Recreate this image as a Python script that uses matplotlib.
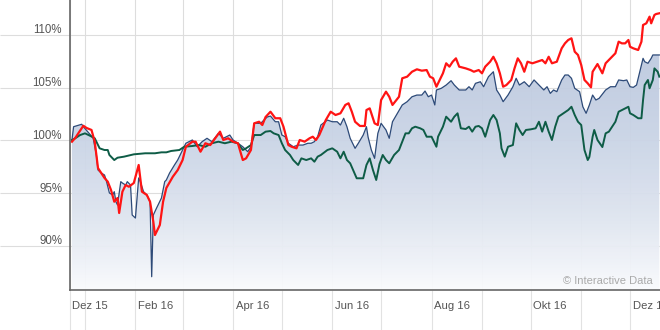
import numpy as np
import pandas as pd
import matplotlib
matplotlib.use('Agg')
import matplotlib.pyplot as plt
import matplotlib.dates as mdates
from matplotlib.colors import to_rgb

plt.rcParams['font.family'] = ['Liberation Sans', 'DejaVu Sans']

# day offsets are counted from 2016-01-01, values are indexed performance in %
t0 = pd.Timestamp('2016-01-01')

fund_days = [-8, -7, -2, -1, 5, 7, 8, 10, 12, 13,
             15, 17, 18, 19, 20, 22, 23, 25, 26, 28,
             29, 31, 33, 34, 36, 38, 40, 41, 42, 44,
             47, 49, 50, 52, 55, 57, 60, 62, 66, 69,
             72, 75, 78, 82, 85, 89, 91, 94, 97, 100,
             102, 104, 108, 110, 112, 114, 117, 119, 121, 123,
             125, 128, 131, 134, 137, 139, 141, 143, 145, 149,
             152, 155, 157, 159, 161, 163, 166, 168, 171, 173,
             174, 176, 178, 180, 182, 185, 187, 189, 192, 195,
             198, 201, 204, 207, 209, 211, 213, 215, 216, 219,
             222, 225, 227, 230, 234, 236, 238, 240, 243, 245,
             248, 251, 253, 255, 257, 260, 263, 265, 267, 270,
             273, 276, 279, 282, 284, 286, 288, 290, 293, 295,
             297, 299, 301, 304, 306, 308, 310, 312, 314, 316,
             320, 323, 326, 328, 331, 333, 335, 337, 339, 341,
             343, 344, 346, 348, 349, 353]
fund_vals = [100.03, 101.29, 101.52, 101.29, 100.22, 98.61, 97.19, 96.90, 96.71, 96.24,
             95.01, 94.82, 95.13, 94.18, 93.87, 96.08, 95.95, 95.76, 96.08, 95.76,
             92.92, 92.63, 96.43, 96.08, 95.13, 94.82, 94.18, 87.07, 92.92, 93.58,
             94.53, 96.08, 96.24, 96.90, 97.66, 98.14, 99.08, 99.72, 100.03, 99.39,
             99.87, 100.19, 99.87, 100.66, 100.19, 100.50, 100.03, 99.72, 99.39, 98.92,
             99.39, 101.61, 101.61, 101.92, 102.21, 102.30, 101.76, 101.76, 100.50, 100.34,
             99.72, 99.39, 99.55, 99.55, 99.72, 99.72, 99.87, 100.34, 101.45, 101.92,
             101.76, 101.76, 101.45, 102.09, 101.29, 100.19, 99.24, 99.72, 100.50, 101.29,
             100.31, 99.08, 98.29, 100.66, 101.61, 100.98, 100.19, 101.76, 102.56, 103.35,
             103.66, 104.13, 104.29, 104.29, 104.67, 104.13, 104.29, 103.35, 104.77, 104.93,
             105.24, 105.65, 105.24, 104.77, 104.77, 105.08, 104.77, 105.40, 105.55, 105.08,
             106.03, 106.50, 104.77, 104.29, 103.66, 104.29, 105.08, 105.88, 105.24, 105.55,
             105.08, 105.72, 105.24, 104.77, 105.08, 104.45, 104.77, 104.61, 105.72, 106.19,
             106.19, 105.88, 104.93, 104.61, 103.18, 102.56, 103.35, 104.29, 103.82, 103.98,
             104.77, 105.08, 105.08, 105.72, 105.65, 105.72, 105.08, 105.02, 105.24, 106.50,
             107.77, 107.45, 107.30, 107.77, 108.09, 108.09]

bench_days = [-8, -6, -4, -1, 1, 4, 6, 8, 10, 12,
              14, 16, 18, 20, 21, 23, 25, 27, 30, 33,
              35, 38, 40, 42, 43, 46, 48, 50, 54, 57,
              60, 62, 66, 68, 71, 74, 77, 80, 83, 85,
              88, 91, 94, 97, 99, 102, 104, 107, 109, 111,
              114, 117, 120, 122, 125, 127, 130, 132, 135, 138,
              140, 142, 144, 148, 151, 154, 157, 160, 162, 164,
              166, 169, 172, 173, 175, 178, 180, 182, 185, 187,
              189, 193, 195, 198, 201, 204, 207, 210, 212, 214,
              216, 217, 220, 222, 224, 226, 228, 230, 234, 237,
              239, 242, 244, 246, 249, 251, 253, 255, 257, 259,
              262, 264, 266, 268, 270, 272, 275, 278, 281, 283,
              285, 287, 290, 293, 295, 297, 299, 301, 303, 305,
              307, 309, 311, 312, 315, 318, 320, 323, 326, 328,
              330, 332, 334, 335, 337, 340, 342, 343, 345, 347,
              348, 350, 351, 353]
bench_vals = [99.87, 100.22, 100.69, 101.38, 101.17, 100.98, 99.87, 97.37, 96.90, 96.43,
              96.08, 95.29, 94.18, 94.53, 93.11, 95.13, 95.76, 95.60, 95.95, 97.66,
              95.13, 94.82, 94.18, 92.28, 91.02, 91.97, 94.18, 95.48, 96.55, 97.18,
              98.13, 99.39, 99.87, 99.87, 98.92, 99.72, 99.55, 100.19, 100.82, 100.03,
              100.19, 99.87, 99.72, 98.13, 98.29, 99.08, 101.61, 101.76, 101.45, 102.21,
              102.71, 102.09, 102.09, 101.29, 99.55, 99.39, 99.24, 100.03, 99.87, 100.19,
              100.34, 100.03, 100.50, 101.92, 102.71, 102.40, 102.56, 103.35, 103.51, 102.71,
              101.76, 101.36, 101.36, 102.87, 103.03, 101.61, 101.45, 103.82, 104.61, 104.13,
              103.35, 104.13, 105.88, 106.03, 106.50, 106.73, 106.60, 106.66, 106.03, 105.88,
              105.08, 105.40, 106.35, 107.30, 106.98, 107.45, 107.77, 106.98, 106.82, 106.66,
              106.50, 106.66, 106.35, 106.98, 107.45, 107.92, 107.30, 106.35, 105.08, 105.24,
              105.72, 106.82, 107.77, 107.30, 106.50, 107.45, 107.30, 107.45, 107.61, 107.30,
              107.92, 107.30, 107.45, 108.72, 109.19, 109.51, 109.67, 108.40, 108.09, 107.14,
              105.72, 105.40, 105.02, 106.50, 107.23, 106.35, 107.30, 107.77, 108.25, 109.35,
              109.19, 109.19, 109.51, 108.87, 108.72, 108.56, 109.35, 110.93, 111.09, 111.72,
              111.09, 111.88, 111.97, 112.04]

peer_days = [-8, -6, -3, 0, 3, 6, 9, 12, 14, 15,
             18, 20, 24, 30, 37, 43, 47, 50, 53, 58,
             61, 66, 70, 74, 78, 82, 86, 90, 94, 97,
             99, 102, 104, 108, 111, 114, 116, 119, 121, 123,
             126, 128, 131, 133, 136, 139, 141, 143, 145, 149,
             152, 155, 157, 159, 161, 163, 167, 171, 173, 175,
             177, 179, 181, 183, 185, 187, 190, 193, 195, 197,
             199, 201, 203, 206, 208, 210, 213, 216, 217, 220,
             222, 225, 227, 229, 231, 234, 236, 238, 240, 242,
             244, 246, 249, 251, 253, 255, 256, 258, 260, 263,
             265, 267, 269, 271, 274, 277, 279, 281, 283, 285,
             287, 289, 291, 294, 297, 299, 301, 303, 305, 307,
             309, 310, 312, 313, 315, 318, 320, 322, 326, 328,
             330, 332, 334, 335, 337, 340, 342, 343, 344, 346,
             347, 349, 350, 352, 353]
peer_vals = [100.03, 100.19, 100.50, 100.66, 100.44, 100.19, 99.24, 99.08, 99.08, 98.61,
             98.13, 98.35, 98.45, 98.67, 98.77, 98.77, 98.86, 98.86, 98.99, 99.08,
             99.39, 99.46, 99.55, 99.39, 99.72, 99.87, 99.72, 99.87, 99.72, 99.08,
             99.24, 99.55, 100.50, 100.50, 100.82, 100.88, 100.66, 100.50, 99.72, 99.08,
             98.61, 98.13, 97.66, 98.29, 98.13, 98.29, 97.97, 98.45, 98.61, 99.08,
             99.24, 98.92, 98.29, 98.92, 98.13, 97.82, 96.40, 96.40, 97.66, 98.29,
             97.18, 96.24, 97.75, 98.61, 98.13, 97.82, 98.61, 99.08, 99.87, 100.66,
             100.66, 101.14, 101.29, 101.14, 100.98, 100.34, 100.34, 99.39, 100.34, 101.29,
             102.24, 101.76, 102.24, 102.56, 101.14, 101.07, 101.29, 100.82, 101.29, 101.36,
             101.14, 100.34, 101.92, 102.40, 101.92, 100.66, 99.24, 98.45, 99.39, 99.55,
             101.61, 100.98, 100.50, 100.98, 101.04, 101.14, 101.76, 100.82, 101.76, 100.82,
             100.03, 101.29, 102.24, 102.56, 102.87, 103.18, 102.40, 101.76, 101.45, 99.08,
             98.13, 98.42, 100.34, 100.98, 100.03, 99.36, 100.66, 100.82, 101.76, 102.71,
             102.87, 103.03, 103.18, 102.56, 102.40, 102.09, 102.09, 103.82, 105.24, 105.72,
             104.93, 105.72, 106.82, 106.50, 106.03]

pct_ticks = [90, 95, 100, 105, 110]
month_labels = ['Dez 15', 'Feb 16', 'Apr 16', 'Jun 16', 'Aug 16', 'Okt 16', 'Dez 16']
label_dates = ['2015-12-01', '2016-02-01', '2016-04-01', '2016-06-01',
               '2016-08-01', '2016-10-01', '2016-12-01']

x_start = pd.Timestamp('2015-12-22 19:00')
x_end = pd.Timestamp('2016-12-19 10:00')
y_lo, y_hi = 85.81, 113.30


def to_dates(days):
    return t0 + pd.to_timedelta(days, unit='D')


fund_dates = to_dates(fund_days)
bench_dates = to_dates(bench_days)
peer_dates = to_dates(peer_days)

fig = plt.figure(figsize=(6.6, 3.3), dpi=100)
ax = fig.add_axes([70 / 660, 40 / 330, 590 / 660, 290 / 330])

# gradient area under the fund line
fill = ax.fill_between(fund_dates, fund_vals, y_lo, facecolor='none', edgecolor='none')
top_c = np.array(to_rgb('#bcc9df'))
bot_c = np.array(to_rgb('#fafbfd'))
f = np.linspace(0, 1, 256)[:, None] ** 2.0
grad = (top_c + (bot_c - top_c) * f)[:, None, :]
x0n, x1n = mdates.date2num(x_start), mdates.date2num(x_end)
img = ax.imshow(grad, extent=[x0n, x1n, y_lo, y_hi], aspect='auto', origin='upper',
                zorder=1, alpha=0.95, interpolation='bilinear')
img.set_clip_path(fill.get_paths()[0], ax.transData)

ax.plot(fund_dates, fund_vals, color='#2d4a78', lw=0.9, zorder=3)
ax.plot(peer_dates, peer_vals, color='#0e5c46', lw=1.4, zorder=4)
ax.plot(bench_dates, bench_vals, color='#ff1414', lw=1.6, zorder=5)

ax.set_xlim(x_start, x_end)
ax.set_ylim(y_lo, y_hi)

# month grid, ticks run down through the label strip
month_starts = pd.date_range('2016-01-01', '2016-12-01', freq='MS')
ax.set_xticks([x_start] + list(month_starts))
ax.set_xticklabels([])
ax.set_yticks(pct_ticks)
ax.set_yticklabels([])
ax.tick_params(axis='x', length=28.8, width=0.8, color='#e2e2e2', direction='out')
ax.tick_params(axis='y', length=50.4, width=0.8, color='#dddddd', direction='out')
ax.grid(True, color='#dddddd', lw=0.8)
ax.set_axisbelow(True)

for side in ['top', 'right']:
    ax.spines[side].set_visible(False)
for side in ['left', 'bottom']:
    ax.spines[side].set_color('#666666')
    ax.spines[side].set_linewidth(1.2)
    ax.spines[side].set_zorder(6)

for v in pct_ticks:
    ax.annotate(f'{v}%', xy=(0, v), xycoords=('axes fraction', 'data'),
                xytext=(-8, 1.5), textcoords='offset pixels', ha='right', va='baseline',
                fontsize=8.3, color='#555555')

for lab, d in zip(month_labels, label_dates):
    xd = max(pd.Timestamp(d), x_start)
    ax.annotate(lab, xy=(xd, 0), xycoords=('data', 'axes fraction'),
                xytext=(2.5, -16), textcoords='offset pixels', ha='left', va='center',
                fontsize=8.1, color='#555555', annotation_clip=False)

ax.text(0.988, 0.021, '\u00a9 Interactive Data', transform=ax.transAxes,
        ha='right', va='baseline', fontsize=8.0, color='#aaaaaa', zorder=7)

fig.savefig('out.png', dpi=100)
